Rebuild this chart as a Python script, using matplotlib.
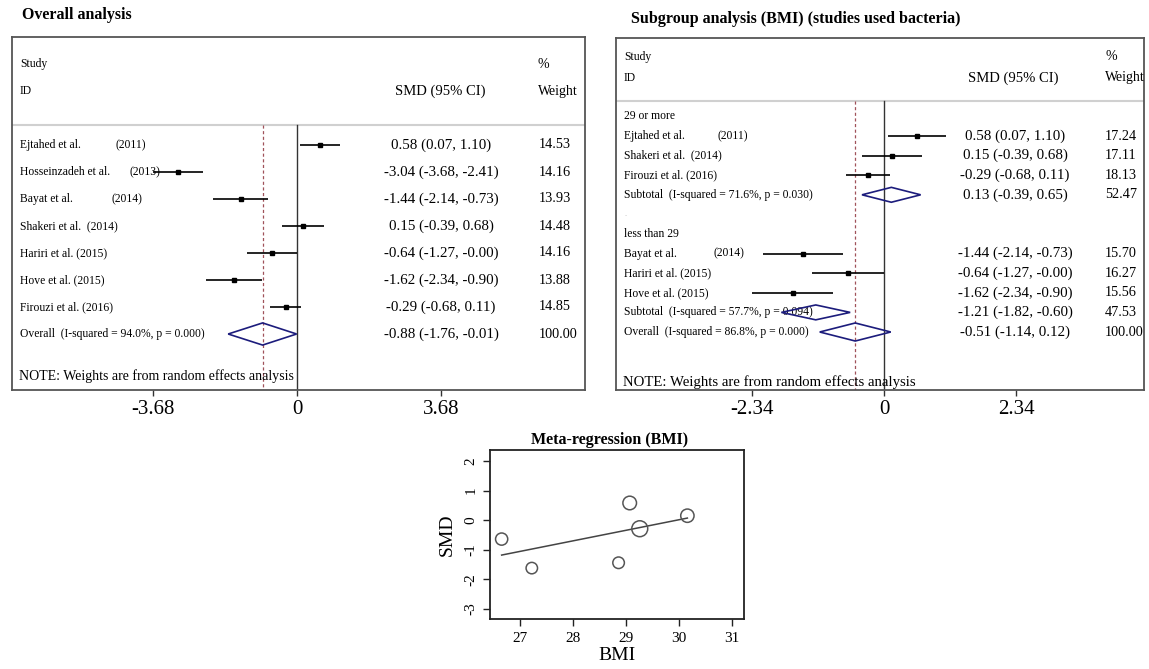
import matplotlib
matplotlib.use("Agg")
import matplotlib.pyplot as plt
import matplotlib.transforms as mtransforms
from matplotlib.patches import Polygon

plt.rcParams['font.family'] = ['Liberation Serif', 'DejaVu Serif']
plt.rcParams['axes.unicode_minus'] = False

# ------------------------------------------------------------------ data
# Overall analysis
studies_all = ["Ejtahed et al.", "Hosseinzadeh et al.", "Bayat et al.", "Shakeri et al.",
               "Hariri et al.", "Hove et al.", "Firouzi et al."]
years_all = ["(2011)", "(2013)", "(2014)", "(2014)", "(2015)", "(2015)", "(2016)"]
smd_all = [0.58, -3.04, -1.44, 0.15, -0.64, -1.62, -0.29]
lo_all = [0.07, -3.68, -2.14, -0.39, -1.27, -2.34, -0.68]
hi_all = [1.10, -2.41, -0.73, 0.68, -0.00, -0.90, 0.11]
wt_all = [14.53, 14.16, 13.93, 14.48, 14.16, 13.88, 14.85]
overall_all_est = -0.88
overall_all_lo = -1.76
overall_all_hi = -0.01
overall_all_wt = 100.00
overall_all_label = "Overall  (I-squared = 94.0%, p = 0.000)"
ticks_all = [-3.68, 0, 3.68]

# Subgroup analysis
group_names = ["29 or more", "less than 29"]
sub_studies = [["Ejtahed et al.", "Shakeri et al.", "Firouzi et al."],
               ["Bayat et al.", "Hariri et al.", "Hove et al."]]
sub_years = [["(2011)", "(2014)", "(2016)"], ["(2014)", "(2015)", "(2015)"]]
sub_smd = [[0.58, 0.15, -0.29], [-1.44, -0.64, -1.62]]
sub_lo = [[0.07, -0.39, -0.68], [-2.14, -1.27, -2.34]]
sub_hi = [[1.10, 0.68, 0.11], [-0.73, -0.00, -0.90]]
sub_wt = [[17.24, 17.11, 18.13], [15.70, 16.27, 15.56]]
subtotal_est = [0.13, -1.21]
subtotal_lo = [-0.39, -1.82]
subtotal_hi = [0.65, -0.60]
subtotal_wt = [52.47, 47.53]
subtotal_labels = ["Subtotal  (I-squared = 71.6%, p = 0.030)",
                   "Subtotal  (I-squared = 57.7%, p = 0.094)"]
overall_sub_est = -0.51
overall_sub_lo = -1.14
overall_sub_hi = 0.12
overall_sub_wt = 100.00
overall_sub_label = "Overall  (I-squared = 86.8%, p = 0.000)"
ticks_sub = [-2.34, 0, 2.34]

# Meta-regression
meta_names = ["Ejtahed", "Shakeri", "Firouzi", "Bayat", "Hariri", "Hove"]
meta_bmi = [29.07, 30.16, 29.26, 28.86, 26.65, 27.22]
meta_smd = [0.58, 0.15, -0.29, -1.44, -0.64, -1.62]
meta_lo = [0.07, -0.39, -0.68, -2.14, -1.27, -2.34]
meta_hi = [1.10, 0.68, 0.11, -0.73, -0.00, -0.90]
fit_bmi = [26.65, 30.16]
fit_smd = [-1.18, 0.07]
meta_xticks = [27, 28, 29, 30, 31]
meta_yticks = [-3, -2, -1, 0, 1, 2]

# ------------------------------------------------------------------ style
W, H = 1149, 669
NAVY = '#1c1c7c'
DASH = '#a0525a'
BOX = '#555555'
SEP = '#d0d0d0'
LBL = 8.4
VAL = 10.8
WTS = 10.3

fig = plt.figure(figsize=(W / 100, H / 100), dpi=100)


def rect(l, t, r, b):
    return [l / W, 1 - b / H, (r - l) / W, (b - t) / H]


def fmt(e, l, h):
    return f"{e:.2f} ({l:.2f}, {h:.2f})"


def forest_axes(box, zero_px, ppu, y0_px, row_px):
    l, t, r, b = box
    ax = fig.add_axes(rect(l, t, r, b))
    ax.set_xlim((l - zero_px) / ppu, (r - zero_px) / ppu)
    ax.set_ylim((b - y0_px) / row_px, (t - y0_px) / row_px)
    for s in ax.spines.values():
        s.set_color(BOX)
        s.set_linewidth(1.3)
    ax.set_yticks([])
    ax.tick_params(axis='x', direction='out', length=4, width=1, color='#333333',
                   labelsize=15, pad=3)
    tr = mtransforms.blended_transform_factory(ax.transAxes, ax.transData)

    def fx(px):
        return (px - l) / (r - l)

    def ry(py):
        return (py - y0_px) / row_px

    return ax, tr, fx, ry


def draw_study(ax, y, e, lo, hi):
    ax.plot([lo, hi], [y, y], color='black', lw=1.2, solid_capstyle='butt', zorder=3)
    ax.plot([e], [y], marker='s', ms=3, color='black', zorder=4)


def draw_diamond(ax, y, e, lo, hi, h):
    ax.add_patch(Polygon([(lo, y), (e, y - h), (hi, y), (e, y + h)], closed=True,
                         fill=False, ec=NAVY, lw=1.2, zorder=4))


# ------------------------------------------------------------------ left panel
fig.text(22 / W, 1 - 15 / H, "Overall analysis", fontsize=11.5, fontweight='bold',
         ha='left', va='center')
ax1, tr1, fx1, ry1 = forest_axes((12, 37, 585, 390), 297, 39.1, 145, 27)
ybot1 = ax1.get_ylim()[0]
sep1 = ry1(125)
ax1.axhline(sep1, color=SEP, lw=1.5)
ax1.text(fx1(20), ry1(64), "Study", transform=tr1, fontsize=LBL, va='center')
ax1.text(fx1(20), ry1(91), "ID", transform=tr1, fontsize=LBL, va='center')
ax1.text(fx1(440), ry1(91), "SMD (95% CI)", transform=tr1, fontsize=10.5, va='center', ha='center')
ax1.text(fx1(538), ry1(64), "%", transform=tr1, fontsize=10, va='center')
ax1.text(fx1(538), ry1(91), "Weight", transform=tr1, fontsize=10, va='center')

ax1.plot([0, 0], [sep1, ybot1], color='#333333', lw=1, zorder=2)
ax1.plot([overall_all_est] * 2, [sep1, ybot1], color=DASH, lw=0.9, dashes=(2.5, 2), zorder=2)

year_px_left = {0: 115, 1: 130, 2: 111}
for i, (nm, yr) in enumerate(zip(studies_all, years_all)):
    if i in year_px_left:
        ax1.text(fx1(20), i, nm, transform=tr1, fontsize=LBL, va='center')
        ax1.text(fx1(year_px_left[i]), i, yr, transform=tr1, fontsize=LBL, va='center')
    else:
        gap = "  " if nm.startswith("Shakeri") else " "
        ax1.text(fx1(20), i, nm + gap + yr, transform=tr1, fontsize=LBL, va='center')
    draw_study(ax1, i, smd_all[i], lo_all[i], hi_all[i])
    ax1.text(fx1(441), i, fmt(smd_all[i], lo_all[i], hi_all[i]), transform=tr1,
             fontsize=VAL, va='center', ha='center')
    ax1.text(fx1(539), i, f"{wt_all[i]:.2f}", transform=tr1, fontsize=WTS, va='center')

yo = len(studies_all)
ax1.text(fx1(20), yo, overall_all_label, transform=tr1, fontsize=LBL, va='center')
draw_diamond(ax1, yo, overall_all_est, overall_all_lo, overall_all_hi, 0.41)
ax1.text(fx1(441), yo, fmt(overall_all_est, overall_all_lo, overall_all_hi), transform=tr1,
         fontsize=VAL, va='center', ha='center')
ax1.text(fx1(539), yo, f"{overall_all_wt:.2f}", transform=tr1, fontsize=WTS, va='center')
ax1.text(fx1(19), ry1(376), "NOTE: Weights are from random effects analysis", transform=tr1,
         fontsize=10, va='center')
ax1.set_xticks(ticks_all)
ax1.set_xticklabels([f"{t:g}" for t in ticks_all])

# ------------------------------------------------------------------ right panel
fig.text(631 / W, 1 - 19 / H, "Subgroup analysis (BMI) (studies used bacteria)", fontsize=11.5,
         fontweight='bold', ha='left', va='center')
ax2, tr2, fx2, ry2 = forest_axes((616, 38, 1144, 390), 884, 56.4, 136, 19.6)
ybot2 = ax2.get_ylim()[0]
sep2 = ry2(101)
ax2.axhline(sep2, color=SEP, lw=1.5)
ax2.text(fx2(624), ry2(57), "Study", transform=tr2, fontsize=LBL, va='center')
ax2.text(fx2(624), ry2(78), "ID", transform=tr2, fontsize=LBL, va='center')
ax2.text(fx2(1013), ry2(78), "SMD (95% CI)", transform=tr2, fontsize=10.5, va='center', ha='center')
ax2.text(fx2(1105), ry2(57), "%", transform=tr2, fontsize=10, va='center', clip_on=True)
ax2.text(fx2(1105), ry2(78), "Weight", transform=tr2, fontsize=10, va='center', clip_on=True)

ax2.plot([0, 0], [sep2, ybot2], color='#333333', lw=1, zorder=2)
ax2.plot([overall_sub_est] * 2, [sep2, ybot2], color=DASH, lw=0.9, dashes=(2.5, 2), zorder=2)

year_px_right = {"Ejtahed et al.": 718, "Bayat et al.": 714}
row = -1
for g in range(len(group_names)):
    ax2.text(fx2(624), row, group_names[g], transform=tr2, fontsize=LBL, va='center')
    row += 1
    for j, nm in enumerate(sub_studies[g]):
        yr = sub_years[g][j]
        if nm in year_px_right:
            ax2.text(fx2(624), row, nm, transform=tr2, fontsize=LBL, va='center')
            ax2.text(fx2(year_px_right[nm]), row, yr, transform=tr2, fontsize=LBL, va='center')
        else:
            gap = "  " if nm.startswith("Shakeri") else " "
            ax2.text(fx2(624), row, nm + gap + yr, transform=tr2, fontsize=LBL, va='center')
        draw_study(ax2, row, sub_smd[g][j], sub_lo[g][j], sub_hi[g][j])
        ax2.text(fx2(1015), row, fmt(sub_smd[g][j], sub_lo[g][j], sub_hi[g][j]), transform=tr2,
                 fontsize=VAL, va='center', ha='center')
        ax2.text(fx2(1105), row, f"{sub_wt[g][j]:.2f}", transform=tr2, fontsize=WTS,
                 va='center', clip_on=True)
        row += 1
    ax2.text(fx2(624), row, subtotal_labels[g], transform=tr2, fontsize=LBL, va='center')
    draw_diamond(ax2, row, subtotal_est[g], subtotal_lo[g], subtotal_hi[g], 0.38)
    ax2.text(fx2(1015), row, fmt(subtotal_est[g], subtotal_lo[g], subtotal_hi[g]), transform=tr2,
             fontsize=VAL, va='center', ha='center')
    ax2.text(fx2(1105), row, f"{subtotal_wt[g]:.2f}", transform=tr2, fontsize=WTS,
             va='center', clip_on=True)
    row += 1
    ax2.text(fx2(624), row, ".", transform=tr2, fontsize=6, va='center', color='#bbbbbb')
    row += 1
row -= 1
ax2.text(fx2(624), row, overall_sub_label, transform=tr2, fontsize=LBL, va='center')
draw_diamond(ax2, row, overall_sub_est, overall_sub_lo, overall_sub_hi, 0.46)
ax2.text(fx2(1015), row, fmt(overall_sub_est, overall_sub_lo, overall_sub_hi), transform=tr2,
         fontsize=VAL, va='center', ha='center')
ax2.text(fx2(1105), row, f"{overall_sub_wt:.2f}", transform=tr2, fontsize=WTS,
         va='center', clip_on=True)
ax2.text(fx2(623), ry2(382), "NOTE: Weights are from random effects analysis", transform=tr2,
         fontsize=10.6, va='center')
ax2.set_xticks(ticks_sub)
ax2.set_xticklabels([f"{t:g}" for t in ticks_sub])

# ------------------------------------------------------------------ meta-regression
ax3 = fig.add_axes(rect(490, 450, 744, 619))
ax3.set_xlim(26.43, 31.23)
ax3.set_ylim(-3.34, 2.37)
for s in ax3.spines.values():
    s.set_color('#222222')
    s.set_linewidth(1.3)
se = [(h - l) / 3.92 for l, h in zip(meta_lo, meta_hi)]
radius_px = [3 + 1.0 / v for v in se]
sizes = [(2 * r * 0.72) ** 2 for r in radius_px]
ax3.plot(fit_bmi, fit_smd, color='#444444', lw=1.1, zorder=2)
ax3.scatter(meta_bmi, meta_smd, s=sizes, facecolors='none', edgecolors='#555555',
            linewidths=1.1, zorder=3)
ax3.set_xticks(meta_xticks)
ax3.set_yticks(meta_yticks)
ax3.tick_params(axis='both', direction='out', length=5, width=1, color='#222222',
                labelsize=11, pad=4)
for lab in ax3.get_yticklabels():
    lab.set_rotation(90)
    lab.set_va('center')
ax3.set_xlabel("BMI", fontsize=14, labelpad=2)
ax3.set_ylabel("SMD", fontsize=14, labelpad=6)
ax3.set_title("Meta-regression (BMI)", fontsize=11.5, fontweight='bold', pad=4, x=0.47)

fig.savefig("out.png", dpi=100)
